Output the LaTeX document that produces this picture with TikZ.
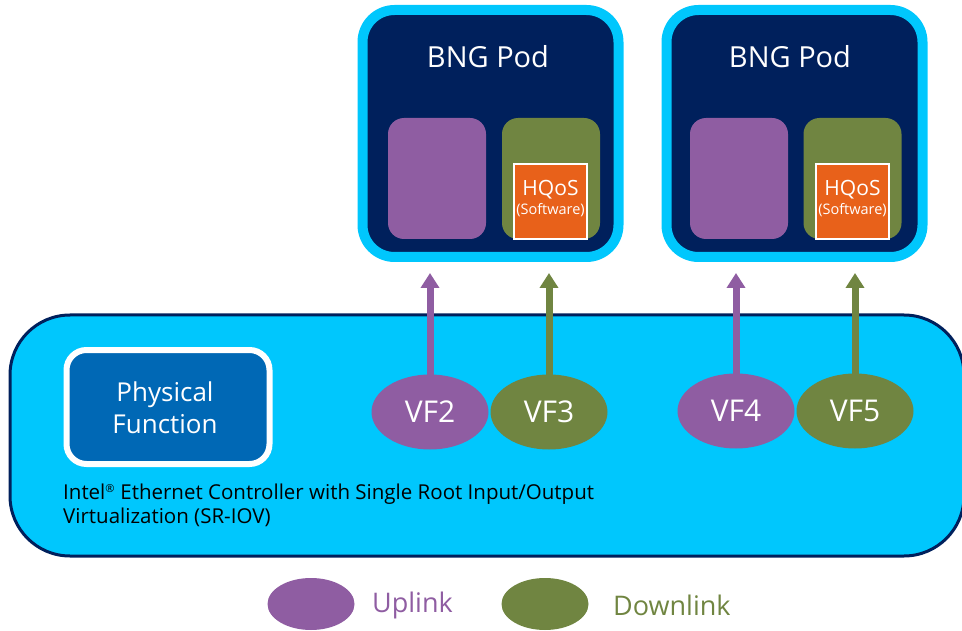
\documentclass[tikz,border=0pt]{standalone}
\usepackage{fontspec}
\setmainfont{Open Sans}
\usetikzlibrary{shapes.geometric,arrows.meta}
\pgfdeclarelayer{bg}
\pgfdeclarelayer{mid}
\pgfsetlayers{bg,mid,main}

\definecolor{skyfill}{HTML}{00C7FD}
\definecolor{navyc}{HTML}{00205C}
\definecolor{purp}{HTML}{8F5DA2}
\definecolor{olive}{HTML}{708541}
\definecolor{orng}{HTML}{E8611A}
\definecolor{pfblue}{HTML}{0068B5}

\tikzset{
  pod/.style={rectangle, rounded corners=32pt, fill=navyc, draw=skyfill,
    line width=10pt, minimum width=256pt, minimum height=247pt, inner sep=0pt, outer sep=0pt},
  podtitle/.style={text=white, font=\fontsize{29}{32}\selectfont, inner sep=0pt},
  upbox/.style={rectangle, rounded corners=16pt, fill=purp, minimum width=98pt,
    minimum height=121pt, inner sep=0pt},
  downbox/.style={upbox, fill=olive},
  hqos/.style={rectangle, fill=orng, draw=white, line width=2pt, minimum width=73pt,
    minimum height=75pt, inner sep=0pt, text=white, align=center,
    font=\fontsize{20}{20}\selectfont},
  vfup/.style={ellipse, fill=purp, minimum width=117pt, minimum height=75pt, inner sep=0pt,
    text=white, font=\fontsize{30}{32}\selectfont},
  vfdown/.style={vfup, fill=olive},
  flow/.style={line width=7pt, -{Triangle[width=18pt,length=15pt]}},
  legendup/.style={ellipse, fill=purp, minimum width=87pt, minimum height=52pt, inner sep=0pt},
  legenddown/.style={legendup, fill=olive},
  legendtext/.style={anchor=west, inner sep=0pt, font=\fontsize{27}{30}\selectfont}
}

\begin{document}
\begin{tikzpicture}[x=1pt, y=-1pt]
\useasboundingbox (0,0) rectangle (962,631);
\clip (0,0) rectangle (962,631);

% SR-IOV controller card
\begin{pgfonlayer}{bg}
  \node[rectangle, rounded corners=60pt, fill=skyfill, draw=navyc, line width=3pt,
        minimum width=954pt, minimum height=241pt, inner sep=0pt] (ctrl) at (487,435.5) {};
\end{pgfonlayer}

% Physical function block
\node[rectangle, rounded corners=20pt, fill=pfblue, draw=white, line width=6pt,
      minimum width=203pt, minimum height=114pt, inner sep=0pt] (pf) at (168,407) {};
\node[text=white, align=center, inner sep=0pt, font=\fontsize{26}{32}\selectfont]
  (pftext) at (165,408) {Physical\\Function};

\node[anchor=north west, inner sep=0pt, align=left, text=black,
      font=\fontsize{20.5}{24}\selectfont] (ctrllabel) at (63,484)
  {Intel\textsuperscript{\fontsize{11}{11}\selectfont ®} Ethernet Controller with Single Root Input/Output\\Virtualization (SR-IOV)};

% BNG pods
\node[pod] (pod1) at (490.5,133.5) {};
\node[pod] (pod2) at (794.5,133.5) {};
\node[podtitle] (t1) at (488,57) {BNG Pod};
\node[podtitle] (t2) at (790,57) {BNG Pod};

\node[upbox] (u1) at (437,178.5) {};
\node[downbox] (d1) at (551,178.5) {};
\node[upbox] (u2) at (739,178.5) {};
\node[downbox] (d2) at (852.5,178.5) {};

\node[hqos] (h1) at (550.5,201.5) {};
\node[hqos] (h2) at (852.5,201.5) {};
\node[text=white, align=center, inner sep=0pt, font=\fontsize{21}{19}\selectfont]
  (h1t) at (550.5,199) {HQoS\\{\fontsize{14.5}{19}\selectfont (Software)}};
\node[text=white, align=center, inner sep=0pt, font=\fontsize{21}{19}\selectfont]
  (h2t) at (852.5,199) {HQoS\\{\fontsize{14.5}{19}\selectfont (Software)}};

% Virtual functions
\node[vfup] (vf2) at (430,412) {VF2};
\node[vfdown] (vf3) at (549,412) {VF3};
\node[vfup] (vf4) at (736,411) {VF4};
\node[vfdown] (vf5) at (855,411) {VF5};

\coordinate (a2) at (430,273);
\coordinate (a3) at (549,273);
\coordinate (a4) at (736,273);
\coordinate (a5) at (855,273);

\begin{pgfonlayer}{mid}
  \draw[flow, purp] (vf2.center) -- (a2);
  \draw[flow, olive] (vf3.center) -- (a3);
  \draw[flow, purp] (vf4.center) -- (a4);
  \draw[flow, olive] (vf5.center) -- (a5);
\end{pgfonlayer}

% Legend
\node[legendup] (lu) at (311,604) {};
\node[legendtext, text=purp] (lut) at (372,605) {Uplink};
\node[legenddown] (ld) at (545,604) {};
\node[legendtext, text=olive] (ldt) at (613,605) {Downlink};
\end{tikzpicture}
\end{document}
